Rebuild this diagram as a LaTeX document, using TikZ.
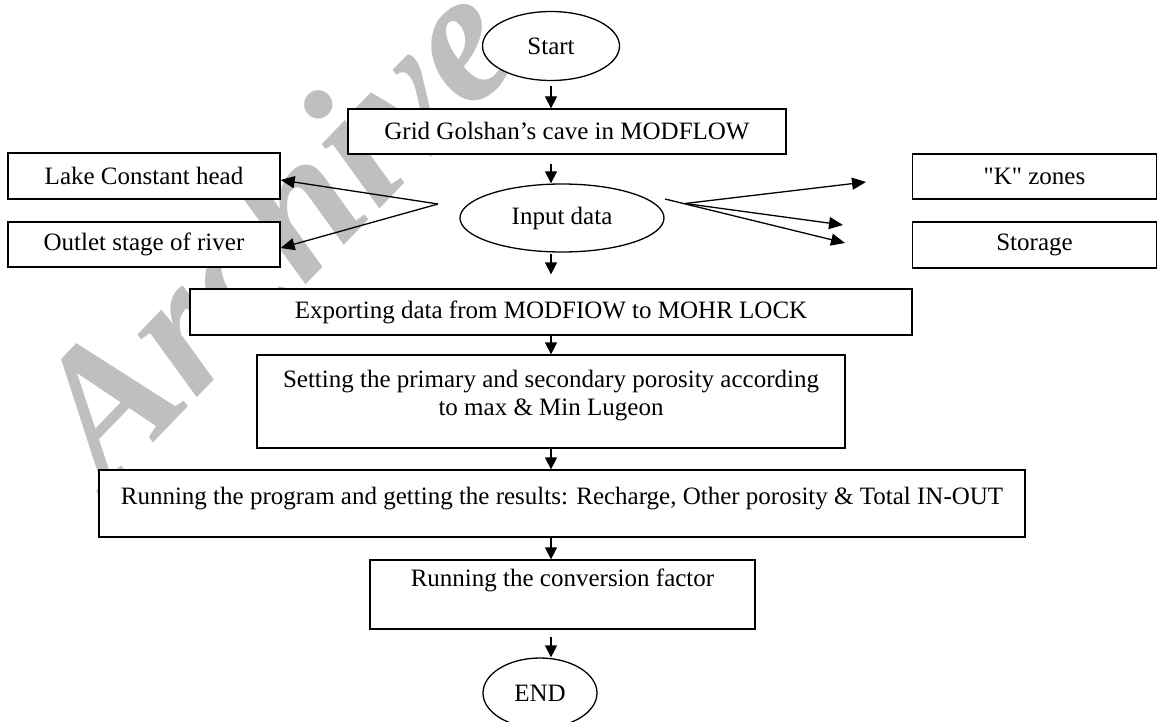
\documentclass[tikz,border=0pt]{standalone}
\usepackage{fontspec}
\setmainfont{Liberation Serif}
\newfontfamily\rawserif{Liberation Serif}
\usetikzlibrary{arrows.meta,shapes.geometric}
\begin{document}
\begin{tikzpicture}[x=1pt,y=-1pt,
  txt/.style={font=\fontsize{25}{28}\selectfont},
  box/.style={txt, draw, line width=1.3pt, fill=white, rectangle, inner sep=0pt},
  oval/.style={txt, draw, line width=1.3pt, fill=white, ellipse, inner sep=0pt},
  arr/.style={line width=1.3pt, -{Triangle[length=12pt,width=12pt]}},
  larr/.style={line width=1.3pt, -{Triangle[length=14pt,width=12pt]}},
  wm/.style={text=black!25, font=\fontsize{188}{188}\selectfont\bfseries\itshape, rotate=46}]
\useasboundingbox (0,0) rectangle (1158,722);
\fill[white] (0,0) rectangle (1158,722);
% watermark
\node[wm] (wmark) at (272,228) {Archive};
% nodes
\node[oval, minimum width=137pt, minimum height=69pt] (start) at (551,46) {Start};
\node[box, minimum width=438pt, minimum height=45pt] (grid) at (567,131.5) {Grid Golshan’s cave in MODFLOW};
\node[oval, minimum width=204pt, minimum height=68pt] (input) at (562,218) {Input data};
\node[box, minimum width=272pt, minimum height=46pt] (lake) at (144,176) {Lake Constant head};
\node[box, minimum width=272pt, minimum height=45pt] (outlet) at (144,244.5) {Outlet stage of river};
\node[box, minimum width=244pt, minimum height=45pt] (kz) at (1034.5,176.5) {{\rawserif "K" zones}};
\node[box, minimum width=244pt, minimum height=46pt] (storage) at (1034.5,245) {Storage};
\node[box, minimum width=722pt, minimum height=46pt] (export) at (551,312) {Exporting data from MODFIOW to MOHR LOCK};
\node[box, minimum width=588pt, minimum height=93pt] (setting) at (551,401.5) {};
\node[txt, align=center] (settext) at (551,396) {Setting the primary and secondary porosity according\\to max \& Min Lugeon};
\node[box, minimum width=926pt, minimum height=67pt, text height=17pt, text depth=16pt] (running) at (562,503.5) {Running the program and getting the results: Recharge, Other porosity \& Total IN-OUT};
\node[box, minimum width=385pt, minimum height=69pt, text height=17pt, text depth=34pt] (conv) at (562.5,594.5) {Running the conversion factor};
\node[oval, minimum width=114pt, minimum height=70pt] (endn) at (540,693) {END};
% free connector ends
\coordinate (lsrc) at (438,204);
\coordinate (rsrc) at (665,199);
\coordinate (rjoin) at (685,203.5);
\coordinate (ktip) at (866,182);
\coordinate (mtip) at (843,225);
\coordinate (stip) at (845,243);
% main flow
\draw[arr, shorten <=5pt] (start.south) -- (start.south |- grid.north);
\draw[arr, shorten <=9pt] (start |- grid.south) -- (start |- input.north);
\draw[arr, shorten <=1pt, shorten >=14pt] (start |- input.south) -- (start |- export.north);
\draw[arr] (start |- export.south) -- (start |- setting.north);
\draw[arr] (setting.south) -- (setting.south |- running.north);
\draw[arr] (setting.south |- running.south) -- (setting.south |- conv.north);
\draw[arr, shorten <=7pt] (setting.south |- conv.south) -- (setting.south |- endn.north);
% side arrows
\draw[larr] (lsrc) -- ([yshift=-4pt]lake.east);
\draw[larr] (lsrc) -- ([yshift=-3.5pt]outlet.east);
\draw[larr] (rsrc) -- (stip);
\draw[larr] (rjoin) -- (ktip);
\draw[larr] (rjoin) -- (mtip);
\end{tikzpicture}
\end{document}
